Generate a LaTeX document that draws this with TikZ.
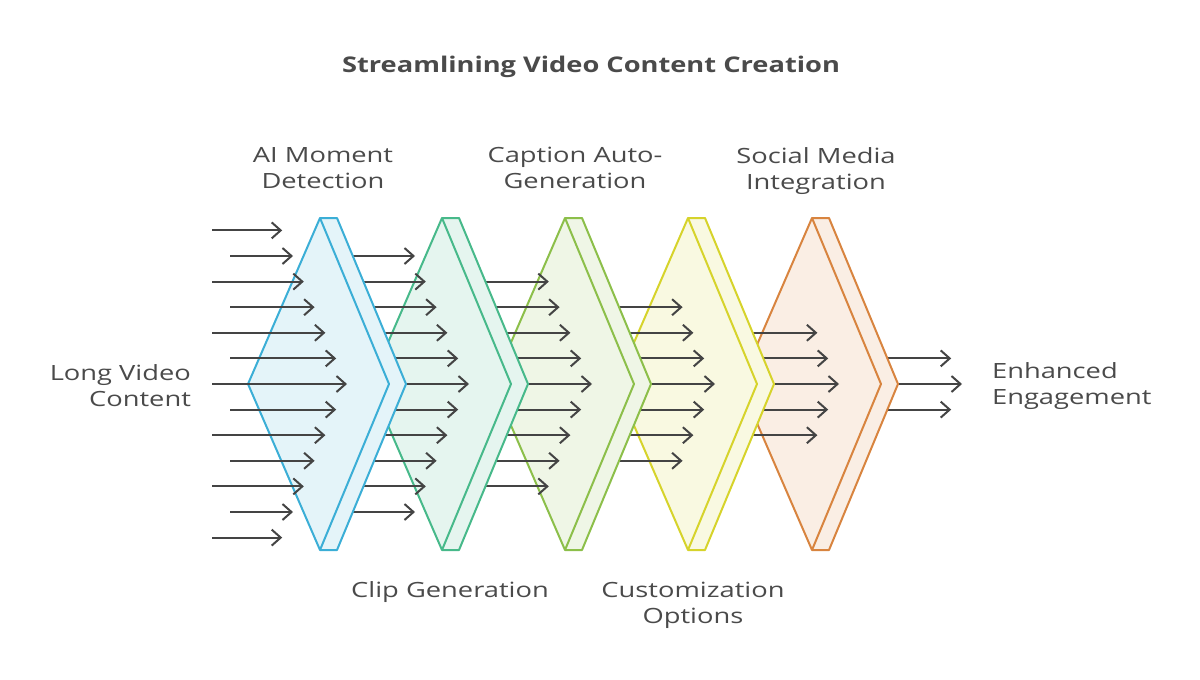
\documentclass[tikz,border=0pt]{standalone}
\usepackage{fontspec}
\setmainfont{Open Sans}[FakeStretch=1.3]
\usetikzlibrary{arrows.meta}
\definecolor{txt}{HTML}{4A4A4A}
\definecolor{arr}{HTML}{444444}
\definecolor{pblue}{HTML}{3BAED6}
\definecolor{pgreen}{HTML}{47B98A}
\definecolor{plime}{HTML}{8CBF4A}
\definecolor{pyellow}{HTML}{D6D32B}
\definecolor{porange}{HTML}{D8843F}
\tikzset{flow/.style={draw=arr, line width=1pt, -{Straight Barb[length=4.5pt,width=8pt,line width=1pt]}},
  lbl/.style={text=txt, font=\fontsize{10.5}{13}\selectfont, align=center}}
\begin{document}
\begin{tikzpicture}[x=0.5pt,y=-0.5pt]
\useasboundingbox (0,0) rectangle (1200,680);
\node[text=txt, font=\fontsize{10.8}{13}\selectfont\bfseries, xscale=0.97] (title) at (591,67) {Streamlining Video Content Creation};
% arrows leaving the last prism
\foreach \k in {-1,0,1} \draw[flow] (888,384+25.6*\k) -- ({962-10.8*abs(\k)},384+25.6*\k);
% prisms, back to front, each with the arrows going into it
\foreach \i/\tx/\col in {5/812/porange,4/688/pyellow,3/565/plime,2/442/pgreen,1/320/pblue}{
  \filldraw[draw=\col, fill=\col!14, line width=1pt, line join=round] (\tx,218) -- (\tx-72,384) -- (\tx,550) -- (\tx+17,550) -- (\tx+86,384) -- (\tx+17,218) -- cycle;
  \draw[\col, line width=1pt, line join=round] (\tx,218) -- (\tx+69,384) -- (\tx,550);
  \pgfmathtruncatemacro\h{7-\i}
  \foreach \k in {-\h,...,\h}{
    \pgfmathsetmacro\xa{ifthenelse(\i==1, 212+18*mod(abs(\k),2), \tx-90)}
    \draw[flow] (\xa,384+25.6*\k) -- ({\tx+27-10.8*abs(\k)},384+25.6*\k);
  }
}
\node[lbl, align=right, anchor=east] (lblIn) at (198,386) {Long Video\\Content};
\node[lbl, align=left, anchor=west] (lblOut) at (985,386) {Enhanced\\Engagement};
\node[lbl] (lblDetect) at (323,168) {AI Moment\\Detection};
\node[lbl] (lblCaption) at (575,168) {Caption Auto-\\Generation};
\node[lbl] (lblSocial) at (816,171) {Social Media\\Integration};
\node[lbl] (lblClip) at (450,592) {Clip Generation};
\node[lbl] (lblCustom) at (693,605) {Customization\\Options};
\end{tikzpicture}
\end{document}
